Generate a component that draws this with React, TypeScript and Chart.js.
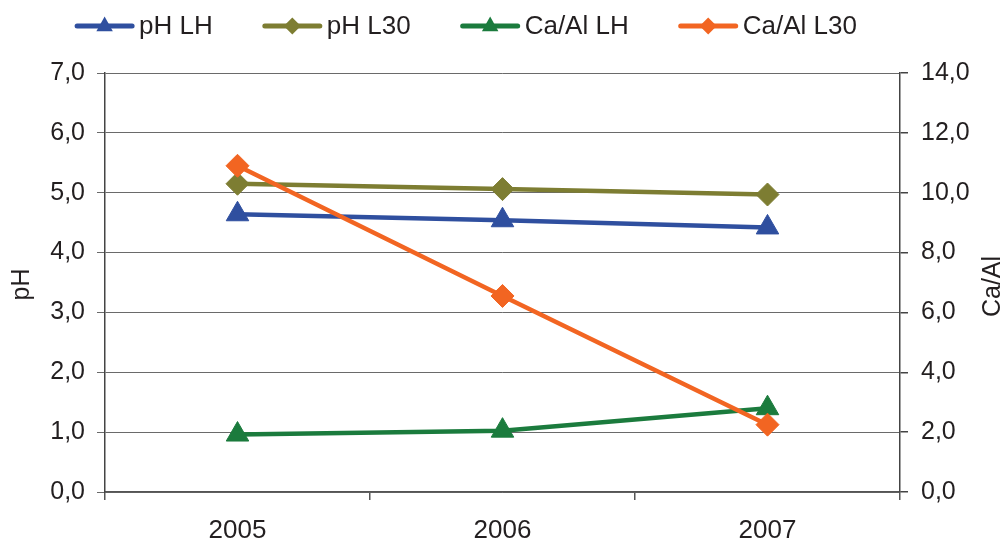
import React, { useEffect, useRef } from "react";
import { Chart, registerables } from "chart.js";

Chart.register(...registerables);

const years = ["2005", "2006", "2007"];
const phLH = [4.64, 4.54, 4.42];
const phL30 = [5.15, 5.06, 4.97];
const caAlLH = [1.92, 2.05, 2.8];
const caAlL30 = [10.9, 6.55, 2.25];

const seriesLabels = ["pH LH", "pH L30", "Ca/Al LH", "Ca/Al L30"];
const seriesColors = ["#2f4f9f", "#7d7d32", "#1b7b3d", "#f26522"];

const FONT = "'Liberation Sans', Arial, sans-serif";
const TEXT = "#231f20";
const fmt = (v: number) => Number(v).toFixed(1).replace(".", ",");

// Draws the line+marker legend row and both rotated axis titles.
const decorations = {
  id: "decorations",
  afterDraw(chart: any) {
    const ctx = chart.ctx;
    const area = chart.chartArea;
    ctx.save();
    ctx.font = `26px ${FONT}`;
    ctx.textBaseline = "middle";
    const lineLen = 59;
    const gapText = 5;
    const gapItem = 50;
    const items = chart.data.datasets.map((ds: any) => ({
      ds,
      w: ctx.measureText(ds.label).width,
    }));
    const total =
      items.reduce((s: number, it: any) => s + lineLen + gapText + it.w, 0) +
      gapItem * (items.length - 1);
    let x = 466 - total / 2;
    const y = 26;
    for (const it of items) {
      const ds = it.ds;
      ctx.strokeStyle = ds.borderColor;
      ctx.lineWidth = 5;
      ctx.lineCap = "round";
      ctx.beginPath();
      ctx.moveTo(x + 2, y);
      ctx.lineTo(x + lineLen - 2, y);
      ctx.stroke();
      ctx.fillStyle = ds.backgroundColor;
      const cx = x + lineLen / 2;
      ctx.beginPath();
      if (ds.pointStyle === "triangle") {
        const r = 9.5;
        ctx.moveTo(cx, y - r);
        ctx.lineTo(cx + r * 0.866, y + r * 0.55);
        ctx.lineTo(cx - r * 0.866, y + r * 0.55);
      } else {
        const r = 8.5;
        ctx.moveTo(cx, y - r);
        ctx.lineTo(cx + r, y);
        ctx.lineTo(cx, y + r);
        ctx.lineTo(cx - r, y);
      }
      ctx.closePath();
      ctx.fill();
      ctx.fillStyle = TEXT;
      ctx.textAlign = "left";
      ctx.fillText(ds.label, x + lineLen + gapText, y + 1);
      x += lineLen + gapText + it.w + gapItem;
    }

    const midY = (area.top + area.bottom) / 2;
    ctx.font = `25px ${FONT}`;
    ctx.textAlign = "center";
    ctx.fillStyle = TEXT;
    ctx.save();
    ctx.translate(22, midY + 2);
    ctx.rotate(-Math.PI / 2);
    ctx.fillText("pH", 0, 0);
    ctx.restore();
    ctx.save();
    ctx.translate(993, midY + 4);
    ctx.rotate(-Math.PI / 2);
    ctx.fillText("Ca/Al", 0, 0);
    ctx.restore();
    ctx.restore();
  },
};

export default function App() {
  const ref = useRef<HTMLCanvasElement>(null);

  useEffect(() => {
    const mk = (
      i: number,
      data: number[],
      axis: string,
      style: string,
      order: number
    ) => ({
      label: seriesLabels[i],
      data,
      yAxisID: axis,
      borderColor: seriesColors[i],
      backgroundColor: seriesColors[i],
      pointBackgroundColor: seriesColors[i],
      pointBorderColor: seriesColors[i],
      borderWidth: 4.5,
      pointStyle: style,
      pointRadius: style === "triangle" ? 13 : 11.5,
      pointBorderWidth: 1,
      tension: 0,
      order,
    });

    const chart = new Chart(ref.current!, {
      type: "line",
      data: {
        labels: years,
        datasets: [
          mk(0, phLH, "y", "triangle", 3),
          mk(1, phL30, "y", "rectRot", 2),
          mk(2, caAlLH, "y1", "triangle", 1),
          mk(3, caAlL30, "y1", "rectRot", 0),
        ],
      },
      plugins: [decorations],
      options: {
        responsive: false,
        animation: false,
        layout: { padding: { top: 73, left: 0, right: 0, bottom: 0 } },
        plugins: {
          legend: { display: false },
          tooltip: { enabled: false },
        },
        scales: {
          x: {
            type: "category",
            offset: true,
            afterFit: (s: any) => {
              s.height = 51;
            },
            grid: {
              offset: true,
              drawOnChartArea: false,
              tickLength: 8,
              color: "#555",
              lineWidth: 1.5,
            },
            border: { color: "#555", width: 1.5 },
            ticks: {
              color: TEXT,
              font: { family: FONT, size: 26 },
              padding: 15,
              maxRotation: 0,
            },
          },
          y: {
            position: "left",
            min: 0,
            max: 7,
            afterFit: (s: any) => {
              s.width = 105;
            },
            grid: { color: "#6a6a6a", lineWidth: 1, tickLength: 8 },
            border: { color: "#444", width: 1.5 },
            ticks: {
              stepSize: 1,
              color: TEXT,
              font: { family: FONT, size: 25 },
              padding: 12,
              callback: (v: any) => fmt(v),
            },
          },
          y1: {
            position: "right",
            min: 0,
            max: 14,
            afterFit: (s: any) => {
              s.width = 105;
            },
            grid: {
              drawOnChartArea: false,
              color: "#444",
              lineWidth: 1.5,
              tickLength: 8,
            },
            border: { color: "#444", width: 1.5 },
            ticks: {
              stepSize: 2,
              color: TEXT,
              font: { family: FONT, size: 25 },
              padding: 13,
              callback: (v: any) => fmt(v),
            },
          },
        },
      },
    } as any);
    return () => chart.destroy();
  }, []);

  return (
    <div
      style={{
        position: "absolute",
        left: 0,
        top: 0,
        width: 1005,
        height: 543,
        background: "#fff",
      }}
    >
      <canvas ref={ref} width={1005} height={543} />
    </div>
  );
}
